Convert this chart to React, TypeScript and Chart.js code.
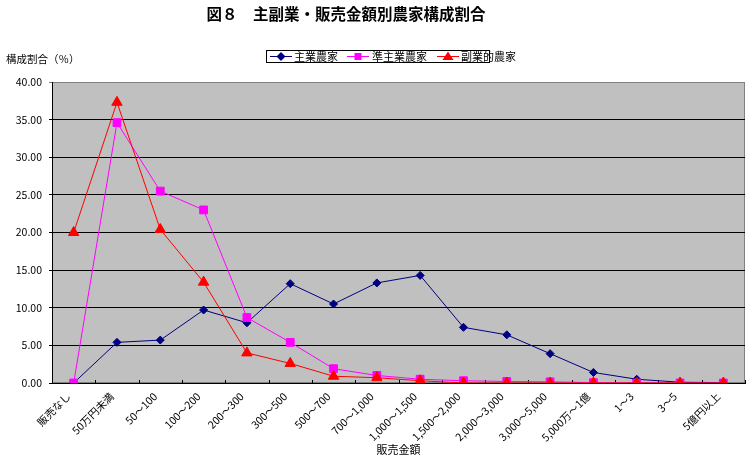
import React, { useEffect, useRef } from 'react';
import Chart from 'chart.js/auto';

const FONT = '"Noto Sans CJK JP", "Noto Sans", sans-serif';

const chartTitle = '図８　主副業・販売金額別農家構成割合';
const yAxisTitle = '構成割合（％）';
const xAxisTitle = '販売金額';

const categories = [
  '販売なし', '50万円未満', '50～100', '100～200', '200～300', '300～500',
  '500～700', '700～1,000', '1,000～1,500', '1,500～2,000', '2,000～3,000',
  '3,000～5,000', '5,000万～1億', '1～3', '3～5', '5億円以上',
];
const seriesNames = ['主業農家', '準主業農家', '副業的農家'];
const seriesColors = ['#000080', '#ff00ff', '#ff0000'];
const shugyo = [0.0, 5.4, 5.7, 9.7, 8.0, 13.2, 10.5, 13.3, 14.3, 7.4, 6.4, 3.9, 1.4, 0.5, 0.1, 0.05];
const junShugyo = [0.0, 34.6, 25.5, 23.0, 8.7, 5.4, 1.9, 1.0, 0.5, 0.3, 0.2, 0.15, 0.05, 0.0, 0.0, 0.0];
const fukugyo = [20.0, 37.3, 20.4, 13.4, 4.0, 2.6, 0.9, 0.7, 0.3, 0.0, 0.0, 0.0, 0.0, 0.0, 0.0, 0.0];

const drawMarker = (ctx: CanvasRenderingContext2D, kind: string, x: number, y: number, color: string) => {
  ctx.fillStyle = color;
  ctx.beginPath();
  if (kind === 'diamond') {
    ctx.moveTo(x, y - 4.5); ctx.lineTo(x + 4.5, y); ctx.lineTo(x, y + 4.5); ctx.lineTo(x - 4.5, y);
  } else if (kind === 'square') {
    ctx.rect(x - 3.5, y - 3.5, 7, 7);
  } else {
    ctx.moveTo(x, y - 5); ctx.lineTo(x + 5.5, y + 3.5); ctx.lineTo(x - 5.5, y + 3.5);
  }
  ctx.closePath();
  ctx.fill();
};

const decor = {
  id: 'decor',
  beforeDraw(chart: any) {
    const { ctx, chartArea: a } = chart;
    ctx.save();
    ctx.fillStyle = '#ffffff';
    ctx.fillRect(0, 0, chart.width, chart.height);
    ctx.fillStyle = '#c0c0c0';
    ctx.fillRect(a.left, a.top, a.right - a.left, a.bottom - a.top);
    ctx.strokeStyle = '#808080';
    ctx.lineWidth = 1;
    ctx.strokeRect(a.left + 0.5, a.top + 0.5, a.right - a.left - 1, a.bottom - a.top - 1);
    ctx.restore();
  },
  beforeDatasetsDraw(chart: any) {
    // inward tick marks between categories
    const { ctx, chartArea: a } = chart;
    const xs = chart.scales.x;
    const half = (xs.getPixelForTick(1) - xs.getPixelForTick(0)) / 2;
    ctx.save();
    ctx.strokeStyle = '#000';
    ctx.lineWidth = 1;
    for (let i = 0; i <= categories.length; i++) {
      const px = Math.round(xs.getPixelForTick(0) - half + i * half * 2) + 0.5;
      ctx.beginPath();
      ctx.moveTo(px, a.bottom - 3);
      ctx.lineTo(px, a.bottom);
      ctx.stroke();
    }
    ctx.restore();
  },
  afterDraw(chart: any) {
    const { ctx } = chart;
    ctx.save();
    ctx.fillStyle = '#000';
    ctx.textBaseline = 'middle';
    ctx.font = `bold 15.5px ${FONT}`;
    ctx.textAlign = 'center';
    ctx.fillText(chartTitle, 346, 14);

    ctx.font = `10.5px ${FONT}`;
    ctx.textAlign = 'left';
    ctx.fillText(yAxisTitle, 6, 59);

    // legend
    ctx.strokeStyle = '#000';
    ctx.lineWidth = 1;
    ctx.strokeRect(266.5, 50.5, 223, 12);
    const items = [
      { line: [270, 292], mark: 281, kind: 'diamond', text: 294 },
      { line: [347, 369], mark: 358, kind: 'square', text: 372 },
      { line: [437, 459], mark: 448, kind: 'triangle', text: 461 },
    ];
    ctx.font = `11px ${FONT}`;
    items.forEach((it, i) => {
      ctx.strokeStyle = seriesColors[i];
      ctx.beginPath();
      ctx.moveTo(it.line[0], 56.5);
      ctx.lineTo(it.line[1], 56.5);
      ctx.stroke();
      drawMarker(ctx, it.kind, it.mark, 56.5, seriesColors[i]);
      ctx.fillStyle = '#000';
      ctx.fillText(seriesNames[i], it.text, 57);
    });
    ctx.restore();
  },
};

const App = () => {
  const chartRef = useRef<HTMLCanvasElement>(null);

  useEffect(() => {
    if (!chartRef.current) return;
    const ctx = chartRef.current.getContext('2d');
    Chart.defaults.font.family = FONT;
    const chart = new Chart(ctx, {
      type: 'line',
      data: {
        labels: categories,
        datasets: [
          {
            label: seriesNames[0], data: shugyo, borderColor: seriesColors[0], backgroundColor: seriesColors[0],
            borderWidth: 1, pointStyle: 'rectRot', pointRadius: 4, pointBorderWidth: 1, order: 3,
          },
          {
            label: seriesNames[1], data: junShugyo, borderColor: seriesColors[1], backgroundColor: seriesColors[1],
            borderWidth: 1, pointStyle: 'rect', pointRadius: 5.5, pointBorderWidth: 1, order: 2,
          },
          {
            label: seriesNames[2], data: fukugyo, borderColor: seriesColors[2], backgroundColor: seriesColors[2],
            borderWidth: 1, pointStyle: 'triangle', pointRadius: 6, pointBorderWidth: 1, order: 1,
          },
        ],
      },
      options: {
        responsive: false,
        animation: false,
        layout: { padding: { top: 82, right: 6, left: 0, bottom: 0 } },
        plugins: {
          legend: { display: false },
          tooltip: { enabled: false },
        },
        scales: {
          x: {
            offset: true,
            grid: { offset: true, drawOnChartArea: false, drawTicks: false },
            border: { color: '#000' },
            ticks: {
              autoSkip: false, maxRotation: 45, minRotation: 45, color: '#000',
              font: { size: 10.5, family: FONT }, padding: 7, labelOffset: -5,
            },
            title: {
              display: true, text: xAxisTitle, color: '#000',
              font: { size: 11, family: FONT }, padding: { top: 0, bottom: 2 },
            },
            afterFit: (s: any) => { s.height = 75; },
          },
          y: {
            min: 0,
            max: 40,
            ticks: {
              stepSize: 5, color: '#000', font: { size: 10.5, family: FONT }, padding: 7,
              callback: (v: any) => Number(v).toFixed(2),
            },
            grid: {
              color: (c: any) => (c.tick && c.tick.value === 40 ? '#808080' : '#000'),
              tickLength: 3,
            },
            border: { color: '#000' },
            afterFit: (s: any) => { s.width = 52; },
          },
        },
      },
      plugins: [decor],
    });
    return () => {
      chart.destroy();
    };
  }, []);

  return (
    <div style={{ position: 'absolute', left: 0, top: 0, width: 752, height: 458 }}>
      <canvas ref={chartRef} width={752} height={458} />
    </div>
  );
};

export default App;
